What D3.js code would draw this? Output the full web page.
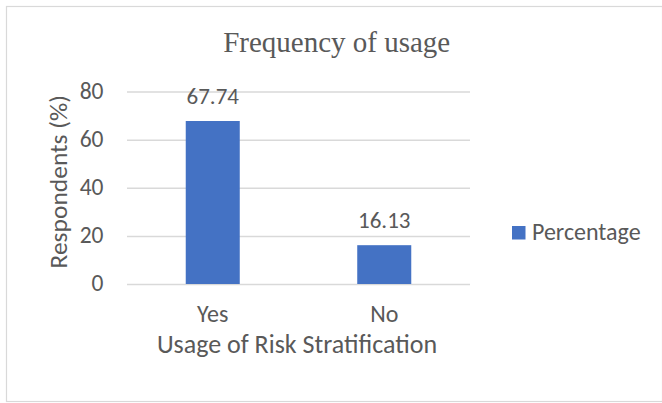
<!DOCTYPE html>
<html>
<head>
<meta charset="utf-8">
<script src="https://cdn.jsdelivr.net/npm/d3@7"></script>
<style>
  html, body { margin: 0; padding: 0; background: #ffffff; }
  svg { display: block; }
  text { font-family: Carlito, "Open Sans", sans-serif; fill: #595959; }
</style>
</head>
<body>
<svg id="chart" width="662" height="403"></svg>
<script>
const categories = ["Yes", "No"];
const percentages = [67.74, 16.13];
const tickValues = [0, 20, 40, 60, 80];
const seriesName = "Percentage";
const chartTitle = "Frequency of usage";
const xAxisTitle = "Usage of Risk Stratification";
const yAxisTitle = "Respondents (%)";

const svg = d3.select("#chart");
const plot = { left: 127, right: 470, top: 91.5, bottom: 284 };
const FONT = 'Carlito, "Open Sans", sans-serif';

// outer border
svg.append("rect")
  .attr("x", 6.5).attr("y", 6.5)
  .attr("width", 656).attr("height", 395)
  .attr("fill", "#ffffff")
  .attr("stroke", "#d9d9d9")
  .attr("stroke-width", 1.2);

const x = d3.scaleBand()
  .domain(categories)
  .range([plot.left, plot.right])
  .paddingInner(0.685)
  .paddingOuter(0.3425);

const y = d3.scaleLinear()
  .domain([0, 80])
  .range([plot.bottom, plot.top]);

// gridlines
const yGrid = d3.axisLeft(y).tickValues(tickValues)
  .tickSize(-(plot.right - plot.left)).tickFormat("");
const g = svg.append("g").attr("transform", `translate(${plot.left},0)`).call(yGrid);
g.select(".domain").remove();
g.selectAll(".tick line").attr("stroke", "#d9d9d9").attr("stroke-width", 1.5);

// y tick labels
const yAx = d3.axisLeft(y).tickValues(tickValues).tickSize(0).tickPadding(0);
const ga = svg.append("g").attr("transform", `translate(103.5,0)`).call(yAx);
ga.select(".domain").remove();
ga.selectAll(".tick text")
  .attr("font-size", 23.5)
  .attr("dy", "0.28em")
  .style("font-family", FONT)
  .attr("fill", "#595959");

// bars
svg.selectAll("rect.bar")
  .data(percentages)
  .join("rect")
  .attr("class", "bar")
  .attr("x", (d, i) => x(categories[i]))
  .attr("width", x.bandwidth())
  .attr("y", d => y(d))
  .attr("height", d => y(0) - y(d))
  .attr("fill", "#4472c4");

// data labels
svg.selectAll("text.dl")
  .data(percentages)
  .join("text")
  .attr("class", "dl")
  .attr("x", (d, i) => x(categories[i]) + x.bandwidth() / 2)
  .attr("y", d => y(d) - 17)
  .attr("text-anchor", "middle")
  .attr("font-size", 23)
  .text(d => d.toFixed(2));

// x category labels
const xAx = d3.axisBottom(x).tickSize(0).tickPadding(0);
const gx = svg.append("g").attr("transform", `translate(0,${plot.bottom})`).call(xAx);
gx.select(".domain").remove();
gx.selectAll(".tick text")
  .attr("y", 37.5).attr("dy", 0)
  .attr("font-size", 24)
  .style("font-family", FONT)
  .attr("fill", "#595959");

// axis titles
svg.append("text")
  .attr("x", 297)
  .attr("y", 352.7)
  .attr("text-anchor", "middle")
  .attr("font-size", 26)
  .text(xAxisTitle);

svg.append("text")
  .attr("transform", "translate(67,181.7) rotate(-90)")
  .attr("text-anchor", "middle")
  .attr("font-size", 25.5)
  .text(yAxisTitle);

// title
svg.append("text")
  .attr("x", 336.7)
  .attr("y", 51.7)
  .attr("text-anchor", "middle")
  .attr("font-size", 29)
  .style("font-family", '"Times New Roman", "Liberation Serif", serif')
  .text(chartTitle);

// legend
const lg = svg.append("g").attr("transform", "translate(512,226)");
lg.append("rect").attr("width", 13.5).attr("height", 13.5).attr("fill", "#4472c4");
lg.append("text").attr("x", 20).attr("y", 14).attr("font-size", 24).text(seriesName);
</script>
</body>
</html>
